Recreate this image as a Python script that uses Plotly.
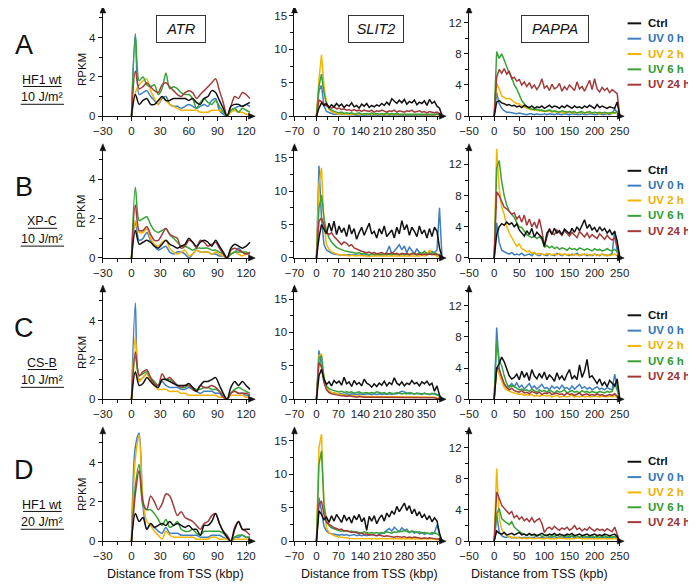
import plotly.graph_objects as go

FONT = "Liberation Sans, Arial, Helvetica, sans-serif"
# the page body has an 8px margin, so the figure is sized to end exactly at the window edge
OFF = 8
FW, FH = 688, 580

# ---------------- sampling grids (kbp from TSS) ----------------
x_atr = list(range(0, 125, 4))      # 32 points
x_slit2 = list(range(0, 401, 8))    # 51 points
x_pappa = list(range(0, 251, 5))    # 51 points

SERIES = ["Ctrl", "UV 0 h", "UV 2 h", "UV 6 h", "UV 24 h"]
ROWS = ["A", "B", "C", "D"]
ROW_LINE1 = ["HF1 wt", "XP-C", "CS-B", "HF1 wt"]
ROW_LINE2 = ["10 J/m²", "10 J/m²", "10 J/m²", "20 J/m²"]
GENES = ["ATR", "SLIT2", "PAPPA"]
XTITLES = ["Distance from TSS (kbp)", "Distance from TSS (kbp)", "Distance from TSS (kpb)"]

# ---------------- ATR (RPKM) ----------------
atr_A_ctrl = [0, 1.1, 0.6, 0.8, 0.9, 0.6, 0.6, 0.8, 1.0, 0.8, 0.8, 0.9, 0.9, 0.9, 0.9, 0.8, 0.9, 0.7, 0.6, 0.9, 1.0, 1.3, 1.2, 0.8, 0.4, 0, 0.5, 0.6, 0.6, 0.5, 0.6, 0.7]
atr_A_uv0 = [0, 4.2, 1.1, 1.2, 1.3, 1.0, 0.8, 0.6, 0.9, 1.0, 0.6, 0.5, 0.5, 0.4, 0.5, 0.6, 0.5, 0.4, 0.5, 0.6, 0.5, 0.8, 0.9, 0.3, 0.1, 0, 0.3, 0.4, 0.5, 0.5, 0.6, 0.5]
atr_A_uv2 = [0, 1.2, 1.6, 1.8, 1.9, 1.3, 0.9, 0.6, 1.0, 0.8, 0.6, 0.5, 0.4, 0.3, 0.3, 0.3, 0.3, 0.3, 0.2, 0.2, 0.2, 0.3, 0.3, 0.3, 0.2, 0, 0.2, 0.3, 0.2, 0.2, 0.1, 0.1]
atr_A_uv6 = [0, 4.1, 1.8, 2.0, 1.6, 1.5, 1.6, 1.1, 1.4, 2.2, 1.4, 1.5, 1.4, 1.2, 1.1, 1.1, 0.9, 0.4, 0.7, 0.9, 0.7, 0.6, 0.8, 0.5, 0.2, 0, 0.3, 0.4, 0.2, 0.4, 0.3, 0.2]
atr_A_uv24 = [0, 2.3, 1.4, 1.5, 1.7, 1.5, 1.3, 1.2, 1.6, 1.7, 1.5, 1.3, 1.1, 1.0, 1.2, 1.3, 1.2, 0.9, 1.1, 1.3, 1.5, 1.7, 1.9, 1.3, 0.7, 0, 0.5, 1.0, 0.9, 1.2, 1.1, 0.9]

atr_B_ctrl = [0, 1.4, 0.7, 0.8, 0.9, 0.8, 0.6, 0.5, 0.7, 0.9, 0.7, 0.6, 0.5, 0.6, 0.7, 1.0, 0.8, 0.6, 0.8, 0.9, 0.8, 0.6, 0.9, 0.6, 0.3, 0, 0.5, 0.7, 0.6, 0.5, 0.6, 0.8]
atr_B_uv0 = [0, 1.8, 0.9, 1.0, 1.3, 0.9, 0.6, 0.4, 0.5, 0.6, 0.3, 0.2, 0.3, 0.3, 0.2, 0.0, 0.2, 0.4, 0.3, 0.3, 0.3, 0.2, 0.2, 0.1, 0.1, 0, 0.2, 0.3, 0.5, 0.3, 0.2, 0.2]
atr_B_uv2 = [0, 1.9, 1.3, 1.3, 1.5, 1.0, 0.7, 0.6, 0.8, 0.9, 0.5, 0.3, 0.2, 0.3, 0.4, 0.1, 0.2, 0.4, 0.3, 0.3, 0.3, 0.2, 0.3, 0.2, 0.1, 0, 0.2, 0.3, 0.2, 0.1, 0.2, 0.2]
atr_B_uv6 = [0, 3.6, 1.9, 2.0, 2.1, 1.7, 1.4, 1.3, 1.4, 1.5, 1.2, 1.0, 0.8, 0.6, 0.6, 0.5, 0.4, 0.5, 0.5, 0.5, 0.5, 0.4, 0.4, 0.3, 0.2, 0, 0.2, 0.3, 0.3, 0.3, 0.3, 0.2]
atr_B_uv24 = [0, 2.7, 1.4, 1.4, 1.6, 1.2, 0.9, 0.9, 1.2, 1.5, 1.2, 1.1, 1.0, 0.5, 0.6, 0.9, 0.8, 0.5, 0.9, 0.8, 0.6, 0.7, 0.8, 0.5, 0.2, 0, 0.4, 0.5, 0.4, 0.3, 0.2, 0.3]

atr_C_ctrl = [0, 1.4, 0.7, 0.8, 1.1, 0.9, 0.7, 0.6, 1.0, 1.0, 0.9, 0.8, 0.7, 0.7, 0.7, 0.8, 0.6, 0.4, 0.7, 0.9, 0.9, 1.0, 1.1, 0.7, 0.3, 0, 0.6, 0.9, 0.7, 0.9, 0.7, 0.5]
atr_C_uv0 = [0, 4.9, 1.0, 1.1, 1.3, 1.0, 0.8, 0.7, 0.9, 0.7, 0.6, 0.6, 0.6, 0.5, 0.5, 0.6, 0.5, 0.4, 0.3, 0.4, 0.4, 0.4, 0.3, 0.3, 0.1, 0, 0.3, 0.4, 0.3, 0.3, 0.2, 0.2]
atr_C_uv2 = [0, 3.2, 0.9, 1.1, 1.3, 0.9, 0.7, 0.5, 0.5, 0.5, 0.4, 0.4, 0.4, 0.3, 0.3, 0.2, 0.2, 0.2, 0.2, 0.2, 0.2, 0.2, 0.2, 0.1, 0.1, 0, 0.2, 0.2, 0.2, 0.2, 0.1, 0.1]
atr_C_uv6 = [0, 2.2, 1.2, 1.3, 1.4, 1.1, 0.9, 0.7, 1.0, 1.0, 1.0, 0.9, 0.7, 0.6, 0.6, 0.7, 0.6, 0.5, 0.5, 0.6, 0.6, 0.5, 0.5, 0.4, 0.2, 0, 0.3, 0.5, 0.6, 0.5, 0.4, 0.3]
atr_C_uv24 = [0, 2.4, 1.2, 1.4, 1.5, 1.1, 0.8, 0.7, 1.3, 1.0, 1.1, 0.9, 0.7, 0.6, 0.7, 0.7, 0.5, 0.4, 0.7, 0.6, 0.6, 0.7, 0.6, 0.4, 0.1, 0, 0.3, 0.4, 0.3, 0.3, 0.3, 0.2]

atr_D_ctrl = [0, 1.4, 1.0, 1.2, 0.6, 0.9, 0.7, 0.8, 0.9, 0.8, 1.0, 0.8, 0.9, 0.8, 0.7, 0.8, 0.6, 0.6, 0.3, 0.8, 0.8, 1.0, 1.4, 0.9, 0.5, 0.2, 0, 0.6, 1.0, 0.6, 0.6, 0.6]
atr_D_uv0 = [0, 4.8, 5.5, 1.8, 0.6, 0.9, 0.7, 0.5, 0.4, 0.7, 0.4, 0.4, 0.4, 0.3, 0.3, 0.3, 0.3, 0.3, 0.2, 0.2, 0.2, 0.3, 0.3, 0.3, 0.2, 0.1, 0, 0.2, 0.2, 0.3, 0.2, 0.2]
atr_D_uv2 = [0, 4.2, 5.4, 2.0, 1.0, 0.8, 0.5, 0.3, 0.1, 0.5, 0.3, 0.2, 0.2, 0.2, 0.2, 0.2, 0.2, 0.1, 0.1, 0.1, 0.1, 0.2, 0.2, 0.1, 0.1, 0.1, 0, 0.1, 0.1, 0.1, 0.1, 0.1]
atr_D_uv6 = [0, 2.8, 3.9, 1.8, 1.6, 1.6, 1.4, 1.1, 0.8, 1.1, 0.7, 0.8, 1.0, 0.6, 0.5, 0.5, 0.6, 0.4, 0.3, 0.5, 0.5, 0.5, 0.5, 0.5, 0.4, 0.2, 0, 0.2, 0.3, 0.3, 0.2, 0.2]
atr_D_uv24 = [0, 2.4, 3.6, 2.0, 1.6, 2.3, 2.0, 1.6, 1.9, 2.4, 2.3, 1.8, 1.3, 1.5, 1.2, 1.1, 1.0, 0.8, 0.6, 0.9, 1.0, 1.3, 1.4, 0.9, 0.5, 0.3, 0, 0.7, 1.0, 0.6, 0.5, 0.3]

# ---------------- SLIT2 (RPKM) ----------------
slit2_A_ctrl = [0, 1.2, 2.0, 1.6, 1.9, 1.3, 1.7, 1.4, 1.9, 1.5, 1.8, 1.3, 1.7, 1.5, 2.0, 1.4, 1.6, 1.2, 1.8, 1.5, 1.9, 1.3, 1.6, 1.4, 1.7, 1.5, 1.9, 1.6, 2.1, 1.7, 2.6, 2.2, 1.9, 2.4, 2.0, 2.5, 1.8, 2.2, 2.0, 2.4, 1.7, 2.1, 1.9, 2.3, 1.6, 2.5, 1.9, 2.2, 1.5, 1.2, 0.1]
slit2_A_uv0 = [0, 3.8, 4.6, 1.5, 0.7, 0.5, 0.4, 0.3, 0.3, 0.2, 0.3, 0.2, 0.2, 0.3, 0.2, 0.2, 0.1, 0.2, 0.2, 0.1, 0.2, 0.2, 0.1, 0.2, 0.1, 0.2, 0.2, 0.1, 0.2, 0.1, 0.2, 0.1, 0.2, 0.1, 0.1, 0.2, 0.1, 0.2, 0.1, 0.1, 0.2, 0.1, 0.1, 0.2, 0.1, 0.1, 0.2, 0.1, 0.3, 0.2, 0.0]
slit2_A_uv2 = [0, 5.5, 9.2, 4.5, 2.0, 1.0, 0.7, 0.5, 0.4, 0.3, 0.4, 0.3, 0.3, 0.2, 0.3, 0.2, 0.3, 0.2, 0.2, 0.3, 0.2, 0.2, 0.3, 0.2, 0.2, 0.2, 0.3, 0.2, 0.2, 0.2, 0.3, 0.2, 0.2, 0.2, 0.2, 0.3, 0.2, 0.2, 0.2, 0.2, 0.2, 0.3, 0.2, 0.2, 0.2, 0.2, 0.2, 0.2, 0.2, 0.2, 0.0]
slit2_A_uv6 = [0, 4.5, 6.3, 3.5, 1.8, 1.2, 0.9, 0.7, 0.6, 0.5, 0.6, 0.4, 0.5, 0.4, 0.5, 0.3, 0.4, 0.5, 0.3, 0.4, 0.4, 0.3, 0.5, 0.3, 0.4, 0.3, 0.4, 0.3, 0.5, 0.3, 0.4, 0.3, 0.4, 0.3, 0.3, 0.4, 0.3, 0.4, 0.3, 0.3, 0.4, 0.3, 0.3, 0.4, 0.3, 0.3, 0.4, 0.3, 0.4, 0.3, 0.0]
slit2_A_uv24 = [0, 2.4, 2.2, 1.8, 1.5, 1.4, 1.2, 1.4, 1.1, 1.2, 1.0, 1.1, 0.9, 1.0, 0.8, 1.0, 0.8, 0.9, 0.7, 0.9, 0.8, 0.7, 0.9, 0.6, 0.8, 0.7, 0.9, 0.7, 0.6, 0.8, 0.7, 0.9, 0.6, 0.8, 0.7, 0.6, 0.8, 0.7, 0.9, 0.6, 0.7, 0.8, 0.6, 0.7, 0.5, 0.7, 0.6, 0.5, 0.6, 0.4, 0.0]

slit2_B_ctrl = [0, 3.0, 5.0, 4.2, 3.6, 5.2, 4.0, 5.5, 3.5, 4.8, 3.8, 4.5, 3.2, 5.0, 3.6, 4.4, 2.8, 3.8, 4.6, 3.4, 4.2, 5.2, 3.6, 4.0, 3.0, 4.4, 3.6, 4.8, 3.2, 3.8, 4.2, 3.0, 4.6, 3.6, 5.6, 4.2, 5.0, 3.4, 4.6, 4.0, 3.2, 4.8, 3.6, 4.2, 3.0, 4.4, 3.2, 4.6, 4.0, 1.5, 0.1]
slit2_B_uv0 = [0, 13.8, 6.0, 2.0, 1.2, 0.9, 0.7, 0.6, 0.5, 0.5, 0.4, 0.5, 0.4, 0.5, 0.4, 0.5, 0.4, 0.4, 0.5, 0.4, 0.5, 0.4, 0.6, 0.5, 0.5, 0.4, 0.6, 0.5, 0.9, 1.8, 0.6, 1.0, 1.5, 2.0, 1.2, 1.8, 0.8, 1.6, 1.0, 0.6, 1.4, 0.8, 0.5, 0.6, 0.5, 0.7, 1.0, 0.8, 1.2, 7.5, 0.0]
slit2_B_uv2 = [0, 11.0, 13.5, 5.0, 2.0, 1.3, 0.9, 0.7, 0.6, 0.5, 0.4, 0.5, 0.4, 0.3, 0.4, 0.3, 0.3, 0.4, 0.3, 0.3, 0.3, 0.2, 0.3, 0.3, 0.2, 0.3, 0.3, 0.2, 0.3, 0.3, 0.2, 0.3, 0.3, 0.3, 0.2, 0.3, 0.3, 0.3, 0.2, 0.3, 0.3, 0.3, 0.4, 0.3, 0.4, 1.2, 0.6, 0.4, 0.3, 0.2, 0.0]
slit2_B_uv6 = [0, 7.5, 9.4, 6.0, 4.0, 3.0, 2.4, 2.0, 1.6, 1.4, 1.2, 1.1, 1.0, 0.9, 0.8, 0.8, 0.7, 0.8, 0.6, 0.7, 0.6, 0.5, 0.6, 0.5, 0.6, 0.5, 0.5, 0.6, 0.5, 0.6, 0.5, 0.6, 0.5, 0.5, 0.6, 0.5, 0.6, 0.5, 0.7, 0.6, 0.5, 0.8, 0.7, 1.0, 0.7, 0.6, 0.7, 0.8, 0.6, 0.5, 0.0]
slit2_B_uv24 = [0, 5.5, 6.0, 4.8, 3.8, 3.5, 3.8, 3.2, 2.8, 2.3, 2.0, 2.4, 2.2, 1.8, 2.0, 1.5, 1.3, 1.1, 1.0, 0.9, 0.8, 0.9, 0.7, 0.8, 0.6, 0.7, 0.8, 0.6, 0.7, 0.6, 0.8, 0.6, 0.7, 0.5, 0.7, 0.6, 0.7, 0.5, 0.6, 0.7, 0.5, 0.6, 0.5, 0.6, 0.5, 0.6, 0.5, 0.6, 0.5, 0.4, 0.0]

slit2_C_ctrl = [0, 3.5, 4.5, 3.0, 2.2, 2.6, 2.0, 2.8, 2.4, 2.7, 2.1, 3.3, 2.3, 2.6, 1.9, 2.8, 2.2, 2.5, 2.0, 3.0, 2.4, 2.2, 1.8, 2.3, 1.9, 2.4, 2.1, 2.7, 2.0, 2.5, 2.2, 3.2, 2.4, 2.1, 2.6, 2.0, 2.4, 2.2, 2.8, 2.3, 2.5, 2.0, 2.6, 2.3, 2.7, 2.1, 2.4, 1.2, 2.0, 0.6, 0.0]
slit2_C_uv0 = [0, 7.3, 5.0, 2.6, 1.6, 1.2, 1.0, 0.9, 0.9, 0.8, 0.8, 0.7, 0.8, 0.7, 0.8, 0.7, 0.7, 0.8, 0.7, 0.7, 0.8, 0.7, 0.7, 0.8, 0.7, 0.8, 0.7, 0.8, 0.7, 0.8, 0.7, 0.9, 0.8, 1.0, 1.2, 1.1, 0.9, 0.8, 0.9, 0.8, 0.9, 0.8, 0.8, 0.9, 0.8, 0.7, 0.8, 0.9, 0.7, 0.5, 0.0]
slit2_C_uv2 = [0, 6.5, 6.8, 3.0, 1.6, 1.2, 1.0, 0.9, 0.8, 0.7, 0.7, 0.6, 0.6, 0.5, 0.5, 0.5, 0.4, 0.5, 0.4, 0.4, 0.4, 0.4, 0.3, 0.4, 0.3, 0.3, 0.4, 0.3, 0.3, 0.3, 0.3, 0.3, 0.3, 0.3, 0.3, 0.3, 0.3, 0.3, 0.3, 0.3, 0.3, 0.3, 0.3, 0.3, 0.3, 0.3, 0.3, 0.3, 0.2, 0.2, 0.0]
slit2_C_uv6 = [0, 6.2, 6.5, 3.2, 2.0, 1.6, 1.4, 1.3, 1.2, 1.1, 1.2, 1.0, 1.1, 1.0, 1.1, 0.9, 1.0, 1.1, 0.9, 1.0, 1.0, 0.9, 1.0, 0.9, 1.1, 1.0, 0.9, 1.0, 0.8, 1.0, 0.9, 0.8, 1.0, 0.9, 0.8, 0.9, 0.8, 1.0, 0.9, 0.8, 0.9, 0.8, 0.7, 0.9, 0.8, 0.7, 0.9, 0.8, 0.7, 0.5, 0.0]
slit2_C_uv24 = [0, 5.5, 4.8, 2.5, 1.4, 1.0, 0.8, 0.7, 0.6, 0.6, 0.5, 0.5, 0.4, 0.5, 0.4, 0.4, 0.3, 0.4, 0.3, 0.3, 0.3, 0.3, 0.2, 0.3, 0.2, 0.3, 0.2, 0.2, 0.3, 0.2, 0.2, 0.2, 0.3, 0.2, 0.2, 0.2, 0.2, 0.2, 0.2, 0.2, 0.2, 0.2, 0.2, 0.2, 0.2, 0.2, 0.2, 0.2, 0.1, 0.1, 0.0]

slit2_D_ctrl = [0, 4.5, 4.0, 3.2, 3.6, 2.8, 3.8, 3.0, 4.0, 3.4, 2.8, 3.9, 3.1, 3.6, 2.7, 3.8, 3.2, 4.0, 2.9, 3.5, 1.6, 3.7, 3.0, 3.8, 2.6, 3.4, 3.9, 3.0, 4.2, 3.6, 4.5, 4.0, 5.2, 4.4, 5.0, 5.7, 4.6, 5.3, 4.1, 4.8, 3.8, 4.4, 3.5, 4.0, 3.2, 3.8, 2.9, 3.5, 3.0, 1.2, 0.0]
slit2_D_uv0 = [0, 6.5, 4.5, 2.2, 1.5, 1.2, 1.1, 1.0, 1.0, 0.9, 1.0, 0.9, 1.0, 0.8, 0.9, 1.0, 0.8, 0.9, 0.8, 0.9, 0.8, 0.9, 1.0, 0.9, 0.8, 1.0, 1.1, 1.3, 1.6, 1.9, 1.5, 2.1, 1.7, 1.4, 2.0, 1.6, 1.8, 1.3, 1.5, 1.2, 1.4, 1.1, 1.3, 1.0, 1.2, 1.1, 1.0, 1.3, 2.4, 1.0, 0.0]
slit2_D_uv2 = [0, 14.0, 16.0, 5.0, 2.0, 1.3, 1.0, 0.8, 0.7, 0.6, 0.6, 0.5, 0.5, 0.4, 0.4, 0.4, 0.4, 0.3, 0.4, 0.3, 0.3, 0.3, 0.3, 0.3, 0.3, 0.3, 0.3, 0.3, 0.3, 0.3, 0.3, 0.3, 0.3, 0.3, 0.3, 0.3, 0.3, 0.3, 0.3, 0.3, 0.3, 0.3, 0.3, 0.3, 0.3, 0.3, 0.3, 0.3, 0.2, 0.2, 0.0]
slit2_D_uv6 = [0, 11.5, 13.5, 5.5, 3.0, 2.3, 2.0, 1.8, 1.7, 1.6, 1.5, 1.6, 1.5, 1.4, 1.5, 1.3, 1.4, 1.3, 1.2, 1.4, 1.3, 1.2, 1.3, 1.2, 1.3, 1.2, 1.3, 1.2, 1.4, 1.3, 1.2, 1.4, 1.3, 1.5, 1.4, 1.6, 1.4, 1.3, 1.5, 1.4, 1.3, 1.4, 1.2, 1.3, 1.2, 1.1, 1.3, 1.2, 1.1, 0.8, 0.0]
slit2_D_uv24 = [0, 5.5, 6.0, 4.0, 2.8, 2.5, 2.3, 2.0, 1.9, 1.7, 1.8, 1.5, 1.6, 1.4, 1.3, 1.4, 1.2, 1.1, 1.2, 1.0, 1.1, 0.9, 1.0, 0.9, 0.8, 0.9, 0.8, 0.7, 0.8, 0.7, 0.7, 0.6, 0.7, 0.6, 0.6, 0.7, 0.5, 0.6, 0.5, 0.6, 0.5, 0.5, 0.4, 0.5, 0.4, 0.5, 0.4, 0.4, 0.3, 0.3, 0.0]

# ---------------- PAPPA (RPKM) ----------------
pappa_A_ctrl = [0, 1.8, 2.0, 1.7, 1.6, 1.4, 1.5, 1.3, 1.4, 1.2, 1.3, 1.1, 1.4, 1.2, 1.1, 1.3, 1.0, 1.2, 1.1, 1.3, 1.0, 1.2, 1.4, 1.1, 1.3, 1.2, 1.0, 1.3, 1.1, 1.4, 1.2, 1.0, 1.3, 1.1, 1.2, 1.0, 1.3, 1.1, 1.4, 1.2, 1.0, 1.5, 1.1, 1.3, 1.2, 1.0, 1.2, 1.1, 1.0, 1.8, 0.1]
pappa_A_uv0 = [0, 3.0, 1.6, 1.0, 0.7, 0.5, 0.5, 0.4, 0.4, 0.3, 0.4, 0.3, 0.3, 0.2, 0.3, 0.3, 0.2, 0.3, 0.2, 0.2, 0.3, 0.2, 0.3, 0.2, 0.2, 0.3, 0.2, 0.2, 0.3, 0.2, 0.2, 0.3, 0.2, 0.2, 0.2, 0.3, 0.2, 0.2, 0.3, 0.2, 0.2, 0.2, 0.3, 0.2, 0.2, 0.3, 0.2, 0.4, 0.9, 0.5, 0.0]
pappa_A_uv2 = [0, 4.2, 3.5, 2.6, 2.4, 2.2, 2.3, 2.0, 1.8, 1.6, 1.6, 1.3, 1.2, 1.0, 0.9, 0.8, 0.9, 0.7, 0.8, 0.6, 0.7, 0.6, 0.7, 0.5, 0.6, 0.5, 0.6, 0.5, 0.4, 0.6, 0.5, 0.4, 0.5, 0.4, 0.5, 0.4, 0.4, 0.5, 0.4, 0.4, 0.5, 0.4, 0.3, 0.4, 0.4, 0.3, 0.4, 0.3, 0.4, 0.5, 0.0]
pappa_A_uv6 = [0, 8.3, 7.4, 8.0, 7.2, 6.3, 5.5, 5.0, 4.0, 3.5, 2.8, 2.0, 1.6, 1.2, 1.0, 0.9, 0.8, 0.9, 0.7, 0.8, 0.6, 0.7, 0.8, 0.6, 0.7, 0.6, 0.5, 0.7, 0.6, 0.5, 0.6, 0.5, 0.6, 0.4, 0.5, 0.6, 0.4, 0.5, 0.6, 0.4, 0.5, 0.4, 0.5, 0.4, 0.5, 0.4, 0.4, 0.5, 0.4, 0.6, 0.1]
pappa_A_uv24 = [0, 5.0, 6.0, 5.5, 6.1, 5.4, 5.8, 4.8, 5.0, 4.5, 4.7, 4.0, 4.4, 3.8, 4.3, 3.6, 4.0, 3.4, 3.9, 4.8, 3.6, 3.9, 3.3, 4.1, 3.5, 3.7, 4.2, 3.2, 3.8, 3.4, 4.0, 3.6, 3.3, 4.4, 3.5, 3.8, 3.2, 3.9, 4.6, 3.4, 4.8, 3.5, 3.1, 3.7, 3.3, 3.6, 3.0, 3.4, 3.1, 2.9, 0.2]

pappa_B_ctrl = [0, 3.0, 4.0, 4.4, 4.2, 4.6, 4.3, 4.5, 4.0, 4.4, 3.6, 3.2, 2.8, 3.5, 3.0, 3.8, 2.7, 3.3, 3.0, 2.6, 1.5, 3.2, 3.6, 3.0, 3.8, 3.2, 3.5, 3.0, 3.7, 3.4, 3.1, 3.8, 3.3, 4.0, 3.5, 4.2, 4.9, 3.8, 4.3, 3.6, 3.9, 3.3, 4.0, 3.5, 3.8, 3.2, 3.6, 3.0, 3.4, 2.2, 0.2]
pappa_B_uv0 = [0, 4.5, 2.0, 1.0, 0.8, 0.6, 0.5, 0.7, 0.4, 0.5, 0.4, 0.6, 0.3, 0.4, 0.5, 0.3, 0.7, 0.4, 0.3, 0.5, 0.4, 0.3, 0.5, 0.4, 0.3, 0.6, 0.4, 0.3, 0.5, 0.4, 0.3, 0.5, 0.4, 0.6, 0.3, 0.4, 0.5, 0.3, 0.4, 0.3, 0.5, 0.4, 0.3, 0.5, 0.4, 0.3, 0.4, 0.6, 3.5, 0.8, 0.0]
pappa_B_uv2 = [0, 14.0, 9.0, 6.5, 5.6, 4.0, 3.2, 2.6, 2.0, 1.5, 1.8, 1.2, 1.0, 0.8, 0.9, 0.6, 0.7, 0.5, 0.6, 0.5, 0.4, 0.6, 0.5, 0.4, 0.5, 0.4, 0.6, 0.4, 0.5, 0.4, 0.5, 0.3, 0.5, 0.4, 0.3, 0.5, 0.4, 0.5, 0.3, 0.4, 0.5, 0.3, 0.4, 0.5, 0.3, 0.4, 0.3, 0.4, 0.5, 0.3, 0.0]
pappa_B_uv6 = [0, 11.5, 12.5, 9.8, 8.0, 6.8, 6.0, 5.6, 5.2, 4.5, 4.0, 3.9, 3.4, 3.0, 2.8, 2.6, 2.8, 2.5, 2.7, 2.4, 1.4, 1.6, 1.3, 1.5, 1.2, 1.4, 1.1, 1.3, 1.2, 1.0, 1.3, 1.1, 1.2, 1.0, 1.3, 1.1, 1.0, 1.2, 1.1, 0.9, 1.2, 1.0, 1.1, 0.9, 1.0, 1.2, 1.0, 0.9, 1.1, 0.8, 0.1]
pappa_B_uv24 = [0, 8.5, 8.0, 7.2, 6.5, 6.3, 6.0, 5.6, 5.8, 5.0, 5.4, 4.6, 5.5, 4.2, 5.0, 4.0, 4.6, 3.8, 5.0, 3.5, 1.5, 2.5, 3.8, 3.2, 3.0, 3.6, 3.3, 2.9, 3.5, 3.1, 2.8, 3.3, 3.0, 2.6, 3.4, 3.0, 2.7, 3.2, 2.6, 3.0, 2.8, 2.5, 3.1, 2.7, 2.4, 2.9, 2.5, 2.3, 2.6, 1.5, 0.1]

pappa_C_ctrl = [0, 3.9, 4.6, 5.4, 4.8, 4.0, 3.0, 2.6, 2.8, 3.2, 2.5, 3.6, 2.8, 3.4, 2.4, 3.8, 3.0, 2.6, 3.3, 2.7, 3.5, 2.5, 3.1, 2.8, 2.3, 3.4, 2.6, 3.0, 2.4, 3.2, 3.8, 2.6, 3.0, 2.5, 4.4, 2.8, 3.6, 5.1, 2.8, 3.0, 2.4, 2.0, 2.6, 1.8, 2.2, 1.6, 2.4, 2.0, 1.7, 2.6, 0.1]
pappa_C_uv0 = [0, 9.2, 4.0, 2.5, 1.8, 1.5, 1.7, 2.0, 1.6, 2.1, 1.5, 1.8, 1.3, 1.6, 2.0, 1.4, 1.7, 1.3, 1.6, 1.9, 1.4, 1.5, 1.2, 1.7, 1.4, 1.6, 1.3, 1.8, 1.4, 1.5, 1.2, 1.7, 1.3, 1.6, 1.9, 1.4, 1.6, 1.3, 1.5, 1.2, 1.4, 1.6, 1.3, 1.4, 1.2, 1.5, 1.3, 1.2, 3.2, 1.6, 0.0]
pappa_C_uv2 = [0, 4.0, 3.2, 2.2, 1.5, 1.2, 1.0, 0.9, 0.8, 0.7, 0.6, 0.7, 0.5, 0.6, 0.5, 0.6, 0.4, 0.5, 0.4, 0.5, 0.4, 0.4, 0.5, 0.3, 0.4, 0.5, 0.3, 0.4, 0.4, 0.3, 0.4, 0.5, 0.3, 0.4, 0.3, 0.4, 0.3, 0.4, 0.3, 0.3, 0.4, 0.3, 0.3, 0.4, 0.3, 0.3, 0.4, 0.3, 0.5, 0.3, 0.0]
pappa_C_uv6 = [0, 7.5, 5.0, 4.3, 3.0, 2.0, 1.5, 1.8, 1.6, 1.4, 1.2, 1.3, 1.1, 1.2, 1.0, 1.3, 1.1, 0.9, 1.2, 1.0, 1.1, 0.9, 1.2, 1.0, 0.8, 1.1, 0.9, 1.0, 1.2, 0.8, 1.0, 1.1, 0.9, 1.0, 0.8, 1.1, 0.9, 1.0, 0.8, 1.0, 0.9, 0.8, 1.0, 0.9, 0.8, 1.0, 0.9, 1.0, 2.0, 1.2, 0.0]
pappa_C_uv24 = [0, 4.1, 3.8, 3.0, 2.0, 1.5, 1.2, 1.4, 1.1, 1.0, 0.9, 1.1, 0.8, 0.9, 0.7, 1.0, 0.8, 0.7, 0.9, 0.6, 0.8, 0.7, 0.9, 0.6, 0.7, 0.8, 0.6, 0.7, 0.5, 0.8, 0.6, 0.7, 0.5, 0.6, 0.8, 0.5, 0.6, 0.7, 0.5, 0.6, 0.5, 0.7, 0.5, 0.6, 0.4, 0.5, 0.6, 0.5, 0.7, 0.4, 0.0]

pappa_D_ctrl = [0, 1.3, 1.0, 0.9, 1.1, 0.8, 0.9, 1.0, 0.8, 0.9, 1.1, 0.8, 0.9, 0.7, 1.0, 0.8, 0.9, 0.7, 0.9, 1.0, 0.8, 0.7, 0.9, 0.8, 1.0, 0.7, 0.9, 0.8, 0.7, 0.9, 0.8, 1.0, 0.7, 0.8, 0.9, 0.7, 0.8, 0.9, 0.7, 0.8, 0.9, 0.7, 0.8, 0.7, 0.9, 0.8, 0.7, 0.8, 0.9, 0.6, 0.0]
pappa_D_uv0 = [0, 3.4, 1.2, 0.7, 0.5, 0.5, 0.6, 0.4, 0.5, 0.4, 0.5, 0.4, 0.5, 0.4, 0.5, 0.4, 0.5, 0.6, 0.4, 0.5, 0.4, 0.5, 0.4, 0.5, 0.6, 0.4, 0.5, 0.4, 0.5, 0.4, 0.5, 0.6, 0.4, 0.5, 0.4, 0.5, 0.4, 0.5, 0.4, 0.5, 0.4, 0.5, 0.4, 0.5, 0.4, 0.5, 0.4, 0.5, 0.6, 0.4, 0.0]
pappa_D_uv2 = [0, 9.3, 3.0, 1.5, 1.0, 0.7, 0.6, 0.5, 0.4, 0.5, 0.4, 0.3, 0.4, 0.3, 0.4, 0.3, 0.3, 0.4, 0.3, 0.3, 0.3, 0.4, 0.3, 0.3, 0.3, 0.3, 0.4, 0.3, 0.3, 0.3, 0.3, 0.3, 0.3, 0.4, 0.3, 0.3, 0.3, 0.3, 0.3, 0.3, 0.3, 0.3, 0.3, 0.3, 0.3, 0.3, 0.3, 0.3, 0.3, 0.3, 0.0]
pappa_D_uv6 = [0, 3.5, 4.2, 2.9, 2.6, 2.3, 2.1, 2.5, 1.8, 1.5, 1.2, 1.0, 0.9, 0.8, 0.9, 0.7, 0.8, 0.7, 0.8, 0.6, 0.7, 0.8, 0.6, 0.7, 0.6, 0.8, 0.6, 0.7, 0.6, 0.7, 0.5, 0.7, 0.6, 0.7, 0.5, 0.6, 0.7, 0.5, 0.6, 0.7, 0.5, 0.6, 0.5, 0.6, 0.7, 0.5, 0.6, 0.5, 0.6, 0.5, 0.0]
pappa_D_uv24 = [0, 6.3, 5.5, 4.6, 4.2, 3.8, 3.5, 3.8, 3.0, 3.3, 2.8, 3.1, 2.6, 2.9, 2.5, 3.0, 2.4, 2.7, 2.9, 2.3, 1.1, 1.6, 1.8, 1.5, 1.9, 1.6, 1.4, 1.7, 1.5, 1.8, 1.4, 1.6, 2.0, 1.5, 1.7, 1.3, 1.6, 1.4, 1.8, 1.5, 1.3, 1.6, 1.4, 1.5, 1.3, 1.6, 1.4, 1.2, 1.8, 1.0, 0.0]

# ---------------- assemble ----------------
DATA = [
    [[atr_A_ctrl, atr_A_uv0, atr_A_uv2, atr_A_uv6, atr_A_uv24],
     [slit2_A_ctrl, slit2_A_uv0, slit2_A_uv2, slit2_A_uv6, slit2_A_uv24],
     [pappa_A_ctrl, pappa_A_uv0, pappa_A_uv2, pappa_A_uv6, pappa_A_uv24]],
    [[atr_B_ctrl, atr_B_uv0, atr_B_uv2, atr_B_uv6, atr_B_uv24],
     [slit2_B_ctrl, slit2_B_uv0, slit2_B_uv2, slit2_B_uv6, slit2_B_uv24],
     [pappa_B_ctrl, pappa_B_uv0, pappa_B_uv2, pappa_B_uv6, pappa_B_uv24]],
    [[atr_C_ctrl, atr_C_uv0, atr_C_uv2, atr_C_uv6, atr_C_uv24],
     [slit2_C_ctrl, slit2_C_uv0, slit2_C_uv2, slit2_C_uv6, slit2_C_uv24],
     [pappa_C_ctrl, pappa_C_uv0, pappa_C_uv2, pappa_C_uv6, pappa_C_uv24]],
    [[atr_D_ctrl, atr_D_uv0, atr_D_uv2, atr_D_uv6, atr_D_uv24],
     [slit2_D_ctrl, slit2_D_uv0, slit2_D_uv2, slit2_D_uv6, slit2_D_uv24],
     [pappa_D_ctrl, pappa_D_uv0, pappa_D_uv2, pappa_D_uv6, pappa_D_uv24]],
]
XGRID = [x_atr, x_slit2, x_pappa]

LINE_COLORS = ["#111111", "#3f7fc2", "#f5b400", "#38a336", "#a23b3b"]
TEXT_COLORS = ["#111111", "#2f72b8", "#f0b000", "#2f9a2f", "#9b3434"]
DRAW_ORDER = [1, 2, 3, 4, 0]

# layout geometry, in window pixels
COL_DOM = [(95, 249.3), (291.5, 445), (470.5, 627.5)]
COL_RANGE = [(-30, 127.5), (-70, 407), (-50, 255)]
X_TICK = [(-30, 30, 15), (-70, 70, 35), (-50, 50, 25)]
Y_SCALE = [19.85, 6.75, 7.88]          # pixels per RPKM unit
Y_TICK = [(2, 1), (5, 2.5), (4, 2)]
ROW_BOTTOM = [117.3, 260.6, 403.3, 546.7]
ROW_H = 113.4
LEGEND_Y = [[23, 38.5, 54, 69.5, 85], [172, 187, 202, 217.5, 233],
            [318, 333.5, 349, 364.5, 380], [466, 481.5, 497, 512, 527]]
# approximate rendered widths of the underlined row descriptors (px)
UL_W1 = [39.6, 29.9, 29.9, 39.6]
UL_W2 = [44.5, 44.5, 44.5, 44.5]


def px(v):
    return (v - OFF) / FW


def py(v):
    return 1 - (v - OFF) / FH


def note(x, y, text, size, **kw):
    d = dict(xref="paper", yref="paper", x=px(x), y=py(y), text=text,
             showarrow=False, xanchor="center", yanchor="middle",
             font=dict(family=FONT, size=size, color=kw.pop("color", "#111")))
    d.update(kw)
    return d


def hline(xa, xb, y, color="#111", width=1):
    return dict(type="line", xref="paper", yref="paper",
                x0=px(xa), x1=px(xb), y0=py(y), y1=py(y),
                line=dict(color=color, width=width))


def tri(points):
    path = "M " + " L ".join(f"{px(a):.5f},{py(b):.5f}" for a, b in points) + " Z"
    return dict(type="path", xref="paper", yref="paper", path=path,
                fillcolor="#111", line=dict(color="#111", width=0.5), layer="above")


fig = go.Figure()
layout = {}
annotations = []
shapes = []

for r in range(4):
    for c in range(3):
        k = r * 3 + c + 1
        s = "" if k == 1 else str(k)
        x0, x1 = COL_DOM[c]
        yb = ROW_BOTTOM[r]
        yt = max(yb - ROW_H, OFF)
        ytop_val = (yb - yt) / Y_SCALE[c]
        tick0, dtick, mdt = X_TICK[c]
        layout["xaxis" + s] = dict(
            domain=[px(x0), px(x1)], range=list(COL_RANGE[c]), anchor="y" + s,
            showgrid=False, zeroline=False, showline=True, linecolor="#111", linewidth=1.3,
            tickmode="linear", tick0=tick0, dtick=dtick, ticks="outside", ticklen=4,
            tickwidth=1.2, tickcolor="#111",
            minor=dict(tickmode="linear", tick0=tick0, dtick=mdt, ticks="outside",
                       ticklen=3, tickwidth=1, tickcolor="#111"),
            tickfont=dict(family=FONT, size=11.5, color="#222"), fixedrange=True,
        )
        ydt, ymdt = Y_TICK[c]
        layout["yaxis" + s] = dict(
            domain=[py(yb), py(yt)], range=[0, ytop_val], anchor="x" + s,
            showgrid=False, zeroline=False, showline=True, linecolor="#111", linewidth=1.3,
            tickmode="linear", tick0=0, dtick=ydt, ticks="outside", ticklen=4,
            tickwidth=1.2, tickcolor="#111",
            minor=dict(tickmode="linear", tick0=0, dtick=ymdt, ticks="outside",
                       ticklen=3, tickwidth=1, tickcolor="#111"),
            tickfont=dict(family=FONT, size=11.5, color="#222"), fixedrange=True,
        )
        for si in DRAW_ORDER:
            fig.add_trace(go.Scatter(
                x=XGRID[c], y=DATA[r][c][si], xaxis="x" + s, yaxis="y" + s,
                mode="lines", name=SERIES[si], showlegend=False, hoverinfo="skip",
                line=dict(color=LINE_COLORS[si], width=1.5,
                          shape="spline" if c == 0 else "linear",
                          smoothing=0.8 if c == 0 else None),
            ))
        # axis arrow heads
        shapes.append(tri([(x1 + 2, yb), (x1 - 5, yb - 3), (x1 - 5, yb + 3)]))
        shapes.append(tri([(x0, yt - 2), (x0 - 3, yt + 5), (x0 + 3, yt + 5)]))

    yb = ROW_BOTTOM[r]
    # row labels
    annotations.append(note(14, yb - 72, ROWS[r], 27))
    y1, y2 = yb - 37, yb - 19
    annotations.append(note(33, y1, ROW_LINE1[r], 12.5))
    annotations.append(note(33, y2, ROW_LINE2[r], 12.5))
    shapes.append(hline(33 - UL_W1[r] / 2, 33 + UL_W1[r] / 2, y1 + 7))
    shapes.append(hline(33 - UL_W2[r] / 2, 33 + UL_W2[r] / 2, y2 + 7))
    annotations.append(note(73, yb - 47, "RPKM", 11.5, textangle=-90))
    # legend for this row
    for i, name in enumerate(SERIES):
        ly = LEGEND_Y[r][i]
        shapes.append(hline(633, 647, ly + 0.5, LINE_COLORS[i], 2))
        annotations.append(note(652, ly, "<b>" + name + "</b>", 11.5,
                                xanchor="left", color=TEXT_COLORS[i]))

# gene titles (row A)
GENE_BOX = [(175, 44), (375, 50), (559, 62)]
for g, (cx, wbox) in zip(GENES, GENE_BOX):
    annotations.append(note(cx, 29, "<i>" + g + "</i>", 14.5,
                            width=wbox, height=22, borderpad=2, borderwidth=1,
                            bordercolor="#333", bgcolor="white"))

# x-axis titles
for t, cx in zip(XTITLES, [170, 368, 543]):
    annotations.append(note(cx, 580, t, 12.5))

fig.update_layout(
    width=FW, height=FH, margin=dict(l=0, r=0, t=0, b=0),
    paper_bgcolor="white", plot_bgcolor="white", showlegend=False,
    font=dict(family=FONT, color="#111"),
    annotations=annotations, shapes=shapes, **layout,
)

fig.write_html("out.html")
